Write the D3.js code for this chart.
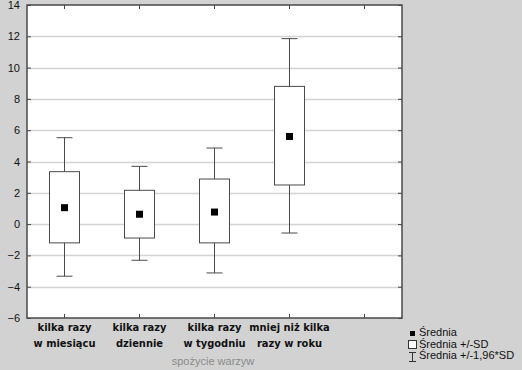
<!DOCTYPE html>
<html>
<head>
<meta charset="utf-8">
<script src="https://cdn.jsdelivr.net/npm/d3@7"></script>
<style>
  body { margin: 0; background: #d2d2d2; }
  svg { display: block; }
</style>
</head>
<body>
<svg id="chart" width="522" height="370"></svg>
<script>
// categories (last slot is empty in the original)
const categories = [["kilka razy", "w miesiącu"], ["kilka razy", "dziennie"], ["kilka razy", "w tygodniu"], ["mniej niż kilka", "razy w roku"], ["", ""]];
const means   = [1.05, 0.63, 0.77, 5.6];
const sdLow   = [-1.2, -0.89, -1.2, 2.5];
const sdHigh  = [3.35, 2.16, 2.88, 8.8];
const ciLow   = [-3.33, -2.31, -3.12, -0.57];
const ciHigh  = [5.52, 3.69, 4.86, 11.85];
const yTicks  = [-6, -4, -2, 0, 2, 4, 6, 8, 10, 12, 14];
const legendLabels = ["Średnia", "Średnia +/-SD", "Średnia +/-1,96*SD"];

const svg = d3.select('#chart');
const m = {left: 27, right: 402, top: 5, bottom: 318};

const x = d3.scaleBand().domain(d3.range(categories.length))
    .range([m.left, m.right]);
const y = d3.scaleLinear().domain([-6, 14]).range([m.bottom, m.top]);

// background plot area
svg.append('rect').attr('x', m.left).attr('y', m.top)
    .attr('width', m.right - m.left).attr('height', m.bottom - m.top)
    .style('fill', '#fff');

// grid
svg.append('g').selectAll('line').data(yTicks.slice(1, -1)).join('line')
    .attr('x1', m.left).attr('x2', m.right)
    .attr('y1', d => Math.round(y(d)) + 0.5).attr('y2', d => Math.round(y(d)) + 0.5)
    .style('stroke', '#d4d4d4').style('stroke-width', 1.5);

// axes
const yAxis = d3.axisLeft(y).tickValues(yTicks).tickSize(4).tickPadding(3);
const gy = svg.append('g').attr('transform', `translate(${m.left},0)`).call(yAxis);
gy.selectAll('text').style('font', '11px "Liberation Sans", Arial').style('fill', '#111');
gy.select('.domain').remove();
gy.selectAll('line').attr('x2', 4);

const gyr = svg.append('g').attr('transform', `translate(${m.right},0)`)
    .call(d3.axisRight(y).tickValues(yTicks).tickSize(-4).tickFormat(''));
gyr.select('.domain').remove();

const xc = i => x(i) + x.bandwidth() / 2;
const gxb = svg.append('g').attr('transform', `translate(0,${m.bottom})`)
    .call(d3.axisBottom(x).tickSize(-4).tickFormat(''));
gxb.select('.domain').remove();
const gxt = svg.append('g').attr('transform', `translate(0,${m.top})`)
    .call(d3.axisTop(x).tickSize(-4).tickFormat(''));
gxt.select('.domain').remove();
svg.selectAll('.tick line').style('stroke', '#444');

// frame
svg.append('rect').attr('x', m.left).attr('y', m.top)
    .attr('width', m.right - m.left).attr('height', m.bottom - m.top)
    .style('fill', 'none').style('stroke', '#4a4a4a').style('stroke-width', 1.5);

// boxes
const boxW = 30, capW = 16;
const g = svg.append('g').selectAll('g').data(means).join('g')
    .style('stroke', '#4a4a4a').style('stroke-width', 1);
g.append('line').attr('x1', (d, i) => xc(i)).attr('x2', (d, i) => xc(i))
    .attr('y1', (d, i) => y(ciLow[i])).attr('y2', (d, i) => y(ciHigh[i]));
g.append('line').attr('x1', (d, i) => xc(i) - capW / 2).attr('x2', (d, i) => xc(i) + capW / 2)
    .attr('y1', (d, i) => y(ciHigh[i])).attr('y2', (d, i) => y(ciHigh[i]));
g.append('line').attr('x1', (d, i) => xc(i) - capW / 2).attr('x2', (d, i) => xc(i) + capW / 2)
    .attr('y1', (d, i) => y(ciLow[i])).attr('y2', (d, i) => y(ciLow[i]));
g.append('rect').attr('x', (d, i) => xc(i) - boxW / 2).attr('y', (d, i) => y(sdHigh[i]))
    .attr('width', boxW).attr('height', (d, i) => y(sdLow[i]) - y(sdHigh[i]))
    .style('fill', '#fff');
g.append('rect').attr('x', (d, i) => xc(i) - 3.5).attr('y', d => y(d) - 3.5)
    .attr('width', 7).attr('height', 7).style('fill', '#000').style('stroke', 'none');

// category labels
const lab = svg.append('g').selectAll('text').data(categories).join('text')
    .attr('x', (d, i) => xc(i)).attr('y', 331)
    .attr('text-anchor', 'middle')
    .style('font', 'bold 11px "DejaVu Sans Condensed", "DejaVu Sans", sans-serif')
    .style('fill', '#111');
lab.append('tspan').attr('x', (d, i) => xc(i)).text(d => d[0]);
lab.append('tspan').attr('x', (d, i) => xc(i)).attr('dy', 16).text(d => d[1]);

svg.append('text').attr('x', 213).attr('y', 365).attr('text-anchor', 'middle')
    .style('font', '11px "Liberation Sans", Arial').style('fill', '#8a8a8a')
    .text('spożycie warzyw');

// legend
const lg = svg.append('g').attr('transform', 'translate(409,0)');
lg.append('rect').attr('x', 1).attr('y', 331).attr('width', 5).attr('height', 5).style('fill', '#000');
lg.append('rect').attr('x', -0.5).attr('y', 340.5).attr('width', 8).attr('height', 8)
    .style('fill', '#fff').style('stroke', '#333');
lg.append('path').attr('d', 'M0,352.5H7M3.5,352.5V361.5M0,361.5H7')
    .style('fill', 'none').style('stroke', '#333');
lg.selectAll('text').data(legendLabels).join('text')
    .attr('x', 10).attr('y', (d, i) => 336 + i * 11.5)
    .style('font', '11px "Liberation Sans", Arial').style('fill', '#111')
    .text(d => d);
</script>
</body>
</html>
